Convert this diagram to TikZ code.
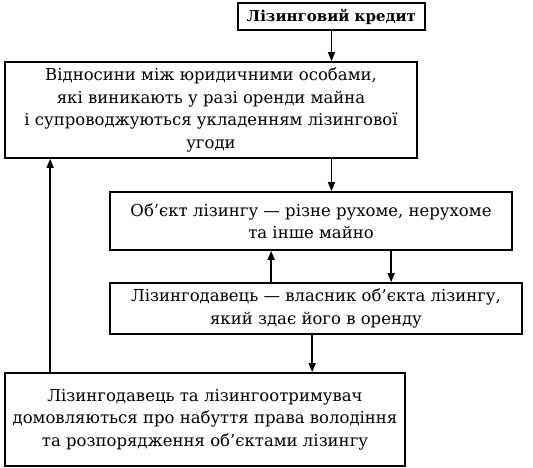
\documentclass[tikz,border=0pt]{standalone}
\usepackage{fontspec}
\setmainfont{DejaVu Serif}
\usetikzlibrary{arrows.meta, positioning}

\begin{document}
\begin{tikzpicture}[
    x=1pt, y=-1pt,
    terminator/.style = {rectangle, draw, line width=1.7pt, align=center, inner sep=2pt, font = \fontsize{15}{20}\selectfont\bfseries},
    process/.style = {rectangle, draw, line width=1.7pt, align=center, inner sep=2pt, font = \fontsize{16.5}{22.5}\selectfont},
    >={Triangle[length=9pt, width=7pt]}, line width=1.4pt]

    \useasboundingbox (0,0) rectangle (533,468);

    \node[terminator, minimum width=187pt, minimum height=27pt] (A) at (331.5,16.5) {Лізинговий кредит};
    \node[process, minimum width=412pt, minimum height=96pt] (B) at (211,110) {Відносини між юридичними особами,\\які виникають у разі оренди майна\\і супроводжуються укладенням лізингової\\угоди};
    \node[process, minimum width=402pt, minimum height=58pt] (C) at (311,221) {Об’єкт лізингу — різне рухоме, нерухоме\\та інше майно};
    \node[process, minimum width=412pt, minimum height=51pt] (D) at (316,308.5) {Лізингодавець — власник об’єкта лізингу,\\який здає його в оренду};
    \node[process, minimum width=400pt, minimum height=93pt] (E) at (205,419.5) {Лізингодавець та лізингоотримувач\\домовляються про набуття права володіння\\та розпорядження об’єктами лізингу};

    \draw[->] (A.south) -- (A.south |- B.north);
    \draw[->] (A.south |- B.south) -- (A.south |- C.north);
    \draw[->] ([xshift=162pt]D.north west) -- ([xshift=162pt]C.south west);
    \draw[->] ([xshift=282pt]C.south west) -- ([xshift=282pt]D.north west);
    \draw[->] ([xshift=203pt]D.south west) -- ([xshift=203pt]D.south west |- E.north);
    \draw[->] ([xshift=46pt]E.north west) -- ([xshift=46pt]B.south west);

\end{tikzpicture}
\end{document}
